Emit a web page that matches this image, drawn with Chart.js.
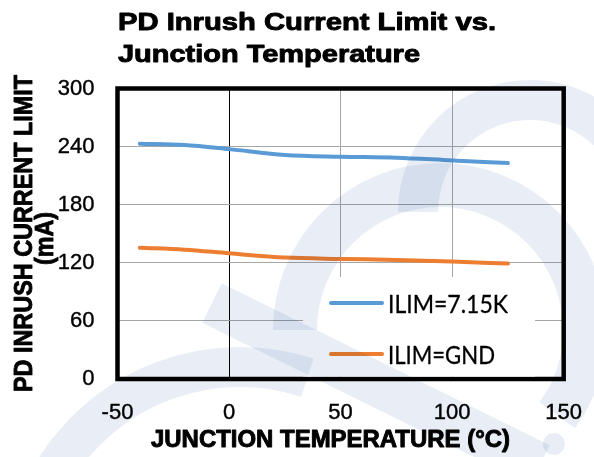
<!DOCTYPE html>
<html>
<head>
<meta charset="utf-8">
<script src="https://cdn.jsdelivr.net/npm/chart.js@4.4.1/dist/chart.umd.min.js"></script>
<style>
  html, body { margin: 0; padding: 0; background: #fff; }
  #wrap { width: 594px; height: 457px; }
</style>
</head>
<body>
<div id="wrap"><canvas id="myChart" width="594" height="457"></canvas></div>
<script>
// data
const temps = [-40, -20, 0, 25, 50, 75, 100, 125];
const ilim715k = [243.0, 241.6, 237.4, 231.4, 229.6, 228.6, 225.7, 223.0];
const ilimGnd = [135.5, 133.6, 129.8, 125.4, 124.0, 123.0, 121.3, 119.2];
const seriesNames = ['ILIM=7.15K', 'ILIM=GND'];
const seriesColors = ['#5b9bd5', '#ed7d31'];
const xTicks = [-50, 0, 50, 100, 150];
const yTicks = [0, 60, 120, 180, 240, 300];
const titleLines = ['PD Inrush Current Limit vs.', 'Junction Temperature'];
const yTitleLines = ['PD INRUSH CURRENT LIMIT', '(mA)'];
const xTitle = 'JUNCTION TEMPERATURE (°C)';

const FONT = '"Liberation Sans", Arial, sans-serif';

// draw text squeezed/stretched to a given width, with a thin stroke to look heavier
function fitText(ctx, text, x, y, width, font, stroke) {
    ctx.save();
    ctx.font = font;
    const w = ctx.measureText(text).width;
    ctx.translate(x, y);
    ctx.scale(width / w, 1);
    ctx.textAlign = 'left';
    ctx.fillText(text, 0, 0);
    if (stroke) {
        ctx.lineWidth = stroke;
        ctx.strokeStyle = ctx.fillStyle;
        ctx.lineJoin = 'round';
        ctx.strokeText(text, 0, 0);
    }
    ctx.restore();
}

const decorPlugin = {
    id: 'decor',
    afterDraw(chart) {
        const ctx = chart.ctx;
        const a = chart.chartArea;

        // frame
        ctx.save();
        ctx.strokeStyle = '#000';
        ctx.lineWidth = 4.5;
        ctx.strokeRect(a.left, a.top, a.right - a.left, a.bottom - a.top);
        ctx.restore();

        // titles
        ctx.save();
        ctx.fillStyle = '#000';
        ctx.textBaseline = 'alphabetic';
        fitText(ctx, titleLines[0], 118, 29.5, 378, 'bold 23.5px ' + FONT, 0.9);
        fitText(ctx, titleLines[1], 118, 61.5, 302, 'bold 23.5px ' + FONT, 0.9);
        fitText(ctx, xTitle, 151, 446.5, 359, 'bold 23px ' + FONT, 0.9);

        // y title, rotated
        ctx.save();
        ctx.translate(32, 392);
        ctx.rotate(-Math.PI / 2);
        fitText(ctx, yTitleLines[0], 0, 0, 317, 'bold 25px ' + FONT, 0.9);
        ctx.restore();
        ctx.save();
        ctx.translate(53, 265);
        ctx.rotate(-Math.PI / 2);
        fitText(ctx, yTitleLines[1], 0, 0, 53, 'bold 25px ' + FONT, 0.9);
        ctx.restore();
        ctx.restore();

        // legend box inside plot
        ctx.save();
        ctx.fillStyle = '#fff';
        ctx.fillRect(303, 277, 232, a.bottom - 2.5 - 277);
        const rows = [303, 354];
        rows.forEach((ry, i) => {
            ctx.strokeStyle = seriesColors[i];
            ctx.lineWidth = 4;
            ctx.lineCap = 'round';
            ctx.beginPath();
            ctx.moveTo(331, ry);
            ctx.lineTo(382, ry);
            ctx.stroke();
            ctx.fillStyle = '#000';
            ctx.textBaseline = 'alphabetic';
            fitText(ctx, seriesNames[i], 388, ry + 9.5, i === 0 ? 120 : 107, '25px Lato, "Open Sans", sans-serif', 0.3);
        });
        ctx.restore();

        // faint watermark shapes over everything
        ctx.save();
        ctx.globalCompositeOperation = 'multiply';
        ctx.strokeStyle = '#e9eef6';
        ctx.fillStyle = '#e9eef6';
        ctx.lineCap = 'butt';
        // lower arch
        ctx.lineWidth = 44;
        ctx.beginPath();
        ctx.arc(440, 330, 145, Math.PI * 1.0, Math.PI * 2.2);
        ctx.stroke();
        // upper arch
        ctx.lineWidth = 40;
        ctx.beginPath();
        ctx.arc(530, 212, 112, Math.PI * 1.0, Math.PI * 1.9);
        ctx.stroke();
        // diagonal band
        ctx.lineWidth = 44;
        ctx.beginPath();
        ctx.moveTo(212, 303);
        ctx.lineTo(540, 465);
        ctx.stroke();
        // bottom-left arc
        ctx.lineWidth = 40;
        ctx.beginPath();
        ctx.arc(240, 585, 218, Math.PI * 1.17, Math.PI * 1.6);
        ctx.stroke();
        ctx.beginPath();
        ctx.arc(554, 444, 11, 0, Math.PI * 2);
        ctx.fill();
        ctx.restore();
    }
};

const ctx = document.getElementById('myChart').getContext('2d');
const chart = new Chart(ctx, {
    type: 'line',
    data: {
        datasets: [
            {
                label: seriesNames[0],
                data: temps.map((t, i) => ({ x: t, y: ilim715k[i] })),
                borderColor: seriesColors[0],
                borderWidth: 4,
                pointRadius: 0,
                cubicInterpolationMode: 'monotone',
                borderCapStyle: 'round'
            },
            {
                label: seriesNames[1],
                data: temps.map((t, i) => ({ x: t, y: ilimGnd[i] })),
                borderColor: seriesColors[1],
                borderWidth: 4,
                pointRadius: 0,
                cubicInterpolationMode: 'monotone',
                borderCapStyle: 'round'
            }
        ]
    },
    options: {
        responsive: false,
        animation: false,
        devicePixelRatio: 1,
        layout: { padding: { top: 88.5, right: 30.3, left: 0, bottom: 0 } },
        plugins: {
            legend: { display: false },
            title: { display: false },
            tooltip: { enabled: false }
        },
        scales: {
            x: {
                type: 'linear',
                min: -50,
                max: 150,
                afterFit: s => { s.height = 78; s.paddingLeft = 0; s.paddingRight = 0; },
                afterBuildTicks: s => { s.ticks = xTicks.map(v => ({ value: v })); },
                border: { display: false },
                grid: {
                    drawTicks: false,
                    lineWidth: 1,
                    color: c => (c.tick && c.tick.value === 0) ? '#000' : '#a6a6a6'
                },
                ticks: {
                    padding: 21,
                    color: '#000',
                    textStrokeColor: '#000',
                    textStrokeWidth: 0.4,
                    font: { family: FONT, size: 22 }
                }
            },
            y: {
                min: 0,
                max: 300,
                afterFit: s => { s.width = 117.5; s.paddingTop = 0; s.paddingBottom = 0; },
                afterBuildTicks: s => { s.ticks = yTicks.map(v => ({ value: v })); },
                border: { display: false },
                grid: { drawTicks: false, lineWidth: 1, color: '#a6a6a6' },
                ticks: {
                    padding: 23,
                    color: '#000',
                    textStrokeColor: '#000',
                    textStrokeWidth: 0.4,
                    font: { family: FONT, size: 22 }
                }
            }
        }
    },
    plugins: [decorPlugin]
});
</script>
</body>
</html>
